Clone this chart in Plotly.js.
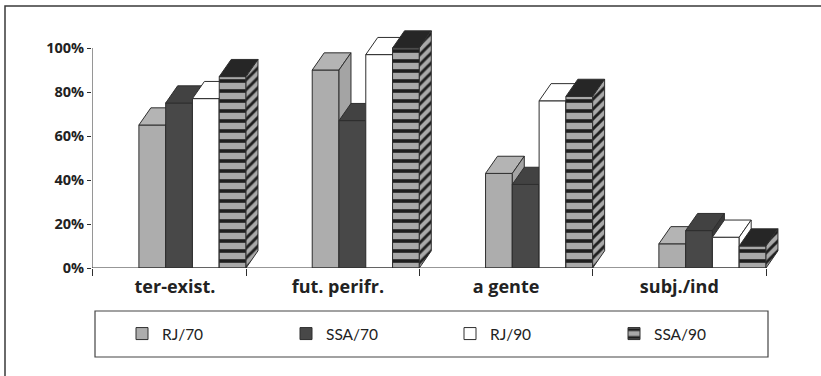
<!DOCTYPE html>
<html>
<head>
<meta charset="utf-8">
<script src="https://cdn.plot.ly/plotly-3.0.1.min.js"></script>
<style>
  html, body { margin: 0; padding: 0; background: #ffffff; }
  #chart { width: 821px; height: 376px; }
</style>
</head>
<body>
<div id="chart"></div>
<script>
// ---- data ----
const categories = ['ter-exist.', 'fut. perifr.', 'a gente', 'subj./ind'];
const seriesNames = ['RJ/70', 'SSA/70', 'RJ/90', 'SSA/90'];
const rj70  = [65, 90, 43, 11];
const ssa70 = [75, 67, 38, 17];
const rj90  = [77, 97, 76, 14];
const ssa90 = [87, 100, 78, 10];
const yTickVals = [0, 20, 40, 60, 80, 100];
const yTickText = ['0%', '20%', '40%', '60%', '80%', '100%'];

const seriesValues = [rj70, ssa70, rj90, ssa90];

// ---- geometry / style ----
const W = 821, H = 376;
const M = { l: 92, r: 41, t: 26, b: 108 };
const PW = W - M.l - M.r;          // plot width in px
const PH = H - M.t - M.b;          // plot height in px
const PLOT_BOTTOM = H - M.b;
const X_MIN = -0.3886, X_MAX = 3.5808;
const Y_MAX = 110;
const BAR_W = 0.1545;              // bar width in category units
const DEPTH_X = 0.069;             // oblique depth offset, x units
const DEPTH_Y = 7.8;               // oblique depth offset, y units (%)
const LABEL_POS = [0.09, 1.03, 2.0, 3.0];
const EDGE = '#2e2e2e';

const px2paperX = px => (px - M.l) / PW;
const px2paperY = py => (PLOT_BOTTOM - py) / PH;

const styles = [
  { front: '#adadad', top: '#b4b4b4', side: '#a4a4a4' },
  { front: '#484848', top: '#424242', side: '#393939' },
  { front: '#ffffff', top: '#ffffff', side: '#ffffff' },
  { front: '#a9a9a9', top: '#262626', side: '#a9a9a9',
    frontPattern: { shape: '-', bgcolor: '#a9a9a9', fgcolor: '#1e1e1e', size: 10, solidity: 0.36 },
    sidePattern:  { shape: '/', bgcolor: '#a9a9a9', fgcolor: '#1e1e1e', size: 7, solidity: 0.42 } }
];

const traces = [];
seriesValues.forEach((vals, k) => {
  const s = k === 0 ? '' : String(k + 1);
  const st = styles[k];
  const offset = 0.5 - (4 - k) * BAR_W;
  const idx = vals.map((_, i) => i);

  const marker = { color: st.front, line: { color: EDGE, width: 1 } };
  if (st.frontPattern) marker.pattern = Object.assign({ fillmode: 'replace' }, st.frontPattern);

  // front faces
  traces.push({
    type: 'bar', name: seriesNames[k], x: idx, y: vals,
    offset: offset, width: BAR_W,
    xaxis: 'x' + s, yaxis: 'y' + s,
    marker: marker, hoverinfo: 'skip'
  });

  // top faces and right side faces, derived from the same values
  const tx = [], ty = [], sx = [], sy = [];
  vals.forEach((v, i) => {
    const x0 = i + offset, x1 = x0 + BAR_W;
    tx.push(x0, x1, x1 + DEPTH_X, x0 + DEPTH_X, x0, null);
    ty.push(v, v, v + DEPTH_Y, v + DEPTH_Y, v, null);
    sx.push(x1, x1, x1 + DEPTH_X, x1 + DEPTH_X, x1, null);
    sy.push(0, v, v + DEPTH_Y, DEPTH_Y, 0, null);
  });
  traces.push({
    type: 'scatter', mode: 'lines', x: tx, y: ty, fill: 'toself',
    fillcolor: st.top, line: { color: EDGE, width: 1 },
    xaxis: 'x' + s, yaxis: 'y' + s, showlegend: false, hoverinfo: 'skip'
  });
  const side = {
    type: 'scatter', mode: 'lines', x: sx, y: sy, fill: 'toself',
    fillcolor: st.side, line: { color: EDGE, width: 1 },
    xaxis: 'x' + s, yaxis: 'y' + s, showlegend: false, hoverinfo: 'skip'
  };
  if (st.sidePattern) side.fillpattern = Object.assign({ fillmode: 'replace' }, st.sidePattern);
  traces.push(side);
});

const hidden = { range: [X_MIN, X_MAX], visible: false, fixedrange: true };
const hiddenY = { range: [0, Y_MAX], visible: false, fixedrange: true };

const layout = {
  width: W, height: H,
  margin: M,
  paper_bgcolor: '#ffffff', plot_bgcolor: 'rgba(0,0,0,0)',
  barmode: 'overlay',
  showlegend: true,
  xaxis: {
    range: [X_MIN, X_MAX], fixedrange: true,
    showgrid: false, zeroline: false, showline: false,
    tickmode: 'array', tickvals: [X_MIN, 0.5, 1.5, 2.5, 3.5],
    ticks: 'outside', ticklen: 7, tickwidth: 1, tickcolor: EDGE,
    showticklabels: false
  },
  yaxis: {
    range: [0, Y_MAX], fixedrange: true,
    showgrid: false, zeroline: false, showline: false,
    tickmode: 'array', tickvals: yTickVals, ticktext: yTickText,
    ticks: 'outside', ticklen: 4, tickwidth: 1, tickcolor: EDGE,
    tickfont: { family: 'Open Sans', size: 14.5, weight: 700, color: '#222222' }
  },
  xaxis2: {
    overlaying: 'x', anchor: 'y2', range: [X_MIN, X_MAX], fixedrange: true,
    showgrid: false, zeroline: false, showline: false,
    tickmode: 'array', tickvals: LABEL_POS, ticktext: categories,
    ticks: '', ticklabelstandoff: 6,
    tickfont: { family: 'Open Sans', size: 18, weight: 700, color: '#222222' }
  },
  yaxis2: Object.assign({ overlaying: 'y', anchor: 'x2' }, hiddenY),
  xaxis3: Object.assign({ overlaying: 'x', anchor: 'y3' }, hidden),
  yaxis3: Object.assign({ overlaying: 'y', anchor: 'x3' }, hiddenY),
  xaxis4: Object.assign({ overlaying: 'x', anchor: 'y4' }, hidden),
  yaxis4: Object.assign({ overlaying: 'y', anchor: 'x4' }, hiddenY),
  legend: {
    orientation: 'h',
    x: px2paperX(122), xanchor: 'left',
    y: px2paperY(334), yanchor: 'middle',
    entrywidth: 119, entrywidthmode: 'pixels',
    bgcolor: 'rgba(0,0,0,0)', borderwidth: 0,
    font: { family: 'Lato', size: 15.5, color: '#222222' },
    traceorder: 'normal'
  },
  shapes: [
    // value axis line and category axis line
    { type: 'line', xref: 'x', yref: 'y', x0: X_MIN, x1: X_MIN, y0: 0, y1: 100,
      line: { color: EDGE, width: 1 } },
    { type: 'line', xref: 'x', yref: 'y', x0: X_MIN, x1: 3.5, y0: 0, y1: 0,
      line: { color: EDGE, width: 1 } },
    // legend box
    { type: 'rect', xref: 'paper', yref: 'paper',
      x0: px2paperX(95), x1: px2paperX(768), y0: px2paperY(357), y1: px2paperY(311),
      line: { color: '#444444', width: 1.2 }, fillcolor: 'rgba(0,0,0,0)' },
    // outer frame (top and left edges)
    { type: 'path', xref: 'paper', yref: 'paper',
      path: 'M ' + px2paperX(5) + ',' + px2paperY(380) +
            ' L ' + px2paperX(5) + ',' + px2paperY(6) +
            ' L ' + px2paperX(830) + ',' + px2paperY(6),
      line: { color: '#3a3a3a', width: 1.5 } }
  ]
};

Plotly.newPlot('chart', traces, layout, { staticPlot: true, displayModeBar: false });
</script>
</body>
</html>
